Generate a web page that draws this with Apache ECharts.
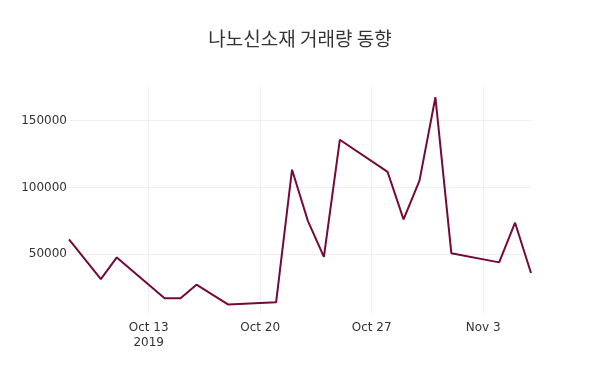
<!DOCTYPE html>
<html>
<head>
<meta charset="utf-8">
<script src="https://cdn.jsdelivr.net/npm/echarts@6/dist/echarts.min.js"></script>
<style>html,body{margin:0;padding:0;background:#fff}#c{width:600px;height:386px}</style>
</head>
<body>
<div id="c"></div>
<script>
const dates = ['2019-10-08','2019-10-10','2019-10-11','2019-10-14','2019-10-15','2019-10-16','2019-10-18','2019-10-21','2019-10-22','2019-10-23','2019-10-24','2019-10-25','2019-10-28','2019-10-29','2019-10-30','2019-10-31','2019-11-01','2019-11-04','2019-11-05','2019-11-06'];
const volumes = [61200,31400,47600,17000,17000,27200,12300,14000,113300,74800,48000,135700,111600,76100,105100,167500,50800,43900,73600,35900];
const xTickDates = ['2019-10-13','2019-10-20','2019-10-27','2019-11-03'];
const yTickValues = [50000,100000,150000];
const titleText = '나노신소재 거래량 동향';

const MON = ['Jan','Feb','Mar','Apr','May','Jun','Jul','Aug','Sep','Oct','Nov','Dec'];
function ts(s){const p=s.split('-');return Date.UTC(+p[0],+p[1]-1,+p[2]);}
const xTicks = xTickDates.map(ts);
const data = dates.map((d,i)=>[ts(d),volumes[i]]);

const chart = echarts.init(document.getElementById('c'));
chart.setOption({
  backgroundColor:'#fff',
  title:{text:titleText,left:'center',top:24,textStyle:{fontFamily:'Noto Sans CJK KR',fontSize:19,fontWeight:'normal',color:'#333'}},
  grid:{left:69,right:69,top:87,bottom:73},
  xAxis:{type:'value',min:ts(dates[0]),max:ts(dates[dates.length-1]),
    axisLine:{show:false},
    axisTick:{show:false,customValues:xTicks},
    splitLine:{show:true,lineStyle:{color:'#eee',width:1}},
    axisLabel:{customValues:xTicks,color:'#333',fontSize:12,fontFamily:'DejaVu Sans',margin:7,lineHeight:15,
      formatter:function(v){const d=new Date(v);let s=MON[d.getUTCMonth()]+' '+d.getUTCDate();if(v===xTicks[0])s+='\n'+d.getUTCFullYear();return s;}}
  },
  yAxis:{type:'value',min:6000,max:175200,
    axisLine:{show:false},
    axisTick:{show:false,customValues:yTickValues},
    splitLine:{show:true,lineStyle:{color:'#eee',width:1}},
    axisLabel:{customValues:yTickValues,color:'#333',fontSize:12,fontFamily:'DejaVu Sans',margin:2,formatter:function(v){return String(v);}}
  },
  series:[{type:'line',data:data,showSymbol:false,symbol:'none',lineStyle:{color:'#74093d',width:2},itemStyle:{color:'#74093d'},animation:false}]
});
</script>
</body>
</html>
